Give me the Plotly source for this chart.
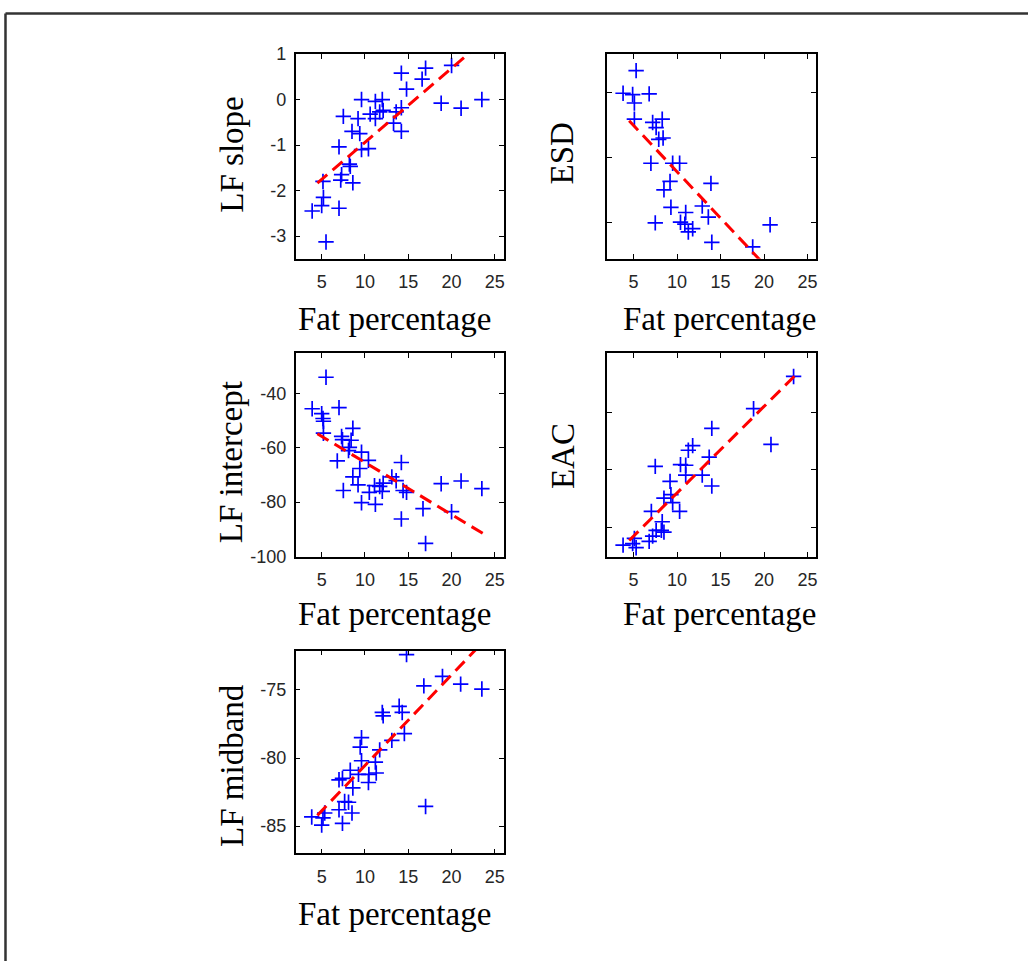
import plotly.graph_objects as go

W, H = 1029, 971

# ---------------- data ----------------
# Panel 1: LF slope vs fat percentage
fat_p1 = [3.9, 5.0, 5.15, 5.2, 5.5, 7.0, 7.0, 7.2, 7.3, 7.5, 8.2, 8.3, 8.5, 8.6,
          9.2, 9.4, 9.6, 9.6, 10.4, 10.6, 11.2, 11.2, 11.7, 12.0, 12.1, 13.3, 13.6,
          14.2, 14.2, 14.2, 14.8, 16.6, 17.0, 18.8, 20.0, 21.1, 23.5]
lf_slope = [-2.45, -2.33, -1.8, -2.15, -3.13, -1.04, -2.39, -1.77, -1.65, -0.37, -1.42,
            -1.47, -0.70, -1.83, -0.42, -0.75, 0.0, -1.1, -1.08, -0.32, -0.04, -0.42,
            -0.27, 0.0, -0.24, -0.52, -0.27, 0.58, -0.18, -0.70, 0.23, 0.45, 0.69,
            -0.08, 0.75, -0.19, 0.0]

# Panel 2: ESD vs fat percentage
fat_p2 = [3.8, 4.9, 5.1, 5.3, 5.1, 6.8, 7.0, 7.2, 7.6, 7.5, 8.3, 7.9, 8.4, 8.5, 9.2,
          9.3, 9.5, 10.3, 10.4, 11.0, 10.9, 11.3, 11.8, 12.9, 13.6, 13.9, 14.0, 18.7, 20.7]
esd = [2.99, 2.97, 2.84, 3.34, 2.59, 2.98, 1.91, 2.54, 2.46, 0.99, 2.59, 2.28, 2.30,
       1.50, 1.63, 1.23, 1.91, 1.91, 1.0, 1.15, 0.97, 0.85, 0.90, 1.25, 1.08, 1.60,
       0.69, 0.62, 0.96]

# Panel 3: LF intercept vs fat percentage
fat_p3 = [3.9, 5.0, 5.15, 5.2, 5.2, 5.5, 7.0, 6.8, 7.3, 7.4, 7.5, 8.2, 8.4, 8.6, 8.1,
          8.6, 9.2, 9.4, 9.6, 9.6, 10.4, 10.5, 11.1, 11.2, 11.7, 12.0, 12.1, 13.1, 13.6,
          14.2, 14.2, 14.4, 14.8, 16.7, 17.0, 18.8, 20.0, 21.1, 23.5]
lf_intercept = [-45.6, -47.4, -49.2, -50.2, -54.6, -34.0, -45.2, -64.8, -55.8, -57.0,
                -75.7, -59.8, -57.2, -52.8, -61.0, -70.7, -73.6, -67.6, -61.6, -80.2,
                -64.6, -76.4, -73.9, -80.8, -74.2, -76.0, -73.0, -70.7, -72.1, -65.4,
                -86.2, -75.7, -76.4, -82.4, -95.2, -73.2, -83.5, -72.2, -75.0]

# Panel 4: EAC vs fat percentage
fat_p4 = [3.8, 4.9, 5.1, 5.3, 6.8, 7.05, 7.2, 7.5, 7.6, 8.2, 8.3, 8.5, 8.5, 9.2, 9.3,
          9.5, 10.3, 10.4, 11.0, 11.0, 11.3, 11.8, 12.9, 13.7, 14.0, 14.0, 18.8, 20.8, 23.4]
eac = [0.695, 0.72, 0.81, 0.65, 0.76, 1.28, 0.85, 2.06, 0.95, 0.95, 1.10, 0.92, 1.51,
       1.80, 1.57, 1.43, 1.28, 2.09, 2.08, 1.91, 2.34, 2.42, 1.91, 2.22, 2.72, 1.72,
       3.06, 2.44, 3.62]

# Panel 5: LF midband vs fat percentage
fat_p5 = [3.85, 5.0, 5.15, 5.35, 7.0, 7.0, 7.4, 7.4, 7.65, 8.1, 8.3, 8.5, 8.6, 9.25,
          9.45, 9.6, 9.6, 10.4, 10.45, 11.2, 11.3, 11.7, 12.0, 12.1, 13.1, 13.95, 14.3,
          14.55, 14.8, 16.8, 17.0, 18.95, 21.05, 23.5]
lf_midband = [-84.33, -84.93, -84.4, -84.04, -83.8, -81.6, -81.5, -84.8, -83.2, -83.25,
              -80.9, -84.04, -82.2, -81.2, -79.2, -78.5, -80.2, -81.8, -81.2, -80.3,
              -81.1, -79.4, -76.65, -76.9, -78.7, -76.2, -76.65, -78.2, -72.4, -74.7,
              -83.56, -74.0, -74.57, -74.93]

# Regression lines (intercept, slope) and the x span they cover
fit_x = [4.5, 23.6]
fit_coef = {
    "p1": (-2.57, 0.163),
    "p2": (3.21, -0.143),
    "p3": (-46.16, -1.92),
    "p4": (0.099, 0.150),
    "p5": (-87.21, 0.666),
}

x_ticks = [5, 10, 15, 20, 25]
x_ticktext = ["5", "10", "15", "20", "25"]
p1_yticks = [-3, -2, -1, 0, 1]
p1_yticktext = ["-3", "-2", "-1", "0", "1"]
p3_yticks = [-100, -80, -60, -40]
p3_yticktext = ["-100", "-80", "-60", "-40"]
p5_yticks = [-85, -80, -75]
p5_yticktext = ["-85", "-80", "-75"]
unlabeled_yticks = [1, 2, 3]

y_titles = ["LF slope", "ESD", "LF intercept", "EAC", "LF midband"]
x_title = "Fat percentage"

# ---------------- layout geometry (pixels) ----------------
cols = {1: (296, 504), 2: (608, 817)}
rows = {1: (45, 254), 2: (350, 558), 3: (654, 861)}

panels = [
    # key, col, row, x, y, yrange, yticks, yticktext
    ("p1", 1, 1, fat_p1, lf_slope, [-3.5, 1.0], p1_yticks, p1_yticktext),
    ("p2", 2, 1, fat_p2, esd, [0.436, 3.595], unlabeled_yticks, ["", "", ""]),
    ("p3", 1, 2, fat_p3, lf_intercept, [-100, -25], p3_yticks, p3_yticktext),
    ("p4", 2, 2, fat_p4, eac, [0.497, 4.03], unlabeled_yticks, ["", "", ""]),
    ("p5", 1, 3, fat_p5, lf_midband, [-87.0, -72.1], p5_yticks, p5_yticktext),
]

y_title_pos = [(232, 148), (563, 146), (232, 462), (563, 455), (232, 771)]
x_title_pos = {1: 395, 2: 720}
x_title_y = {1: 316, 2: 617, 3: 923}


def py(y_px):
    """pixel row (from top) -> paper fraction"""
    return 1 - y_px / H


fig = go.Figure()
layout = dict(
    width=W, height=H,
    margin=dict(l=0, r=0, t=0, b=0),
    paper_bgcolor="white", plot_bgcolor="white",
    showlegend=False,
    annotations=[], shapes=[],
)

tick_font = dict(family="Liberation Sans, Arial, sans-serif", size=18, color="#262626")
title_font = dict(family="Liberation Serif, Times New Roman, serif", size=33, color="black")

for i, (key, c, r, xs, ys, yr, yt, ytt) in enumerate(panels, start=1):
    suffix = "" if i == 1 else str(i)
    fig.add_trace(go.Scatter(
        x=xs, y=ys, mode="markers",
        marker=dict(symbol="cross-thin", size=11, color="blue",
                    line=dict(color="blue", width=1.7)),
        xaxis="x" + suffix, yaxis="y" + suffix, hoverinfo="skip",
    ))
    b0, b1 = fit_coef[key]
    fig.add_trace(go.Scatter(
        x=fit_x, y=[b0 + b1 * v for v in fit_x], mode="lines",
        line=dict(color="red", width=3, dash="13px,7px"),
        xaxis="x" + suffix, yaxis="y" + suffix, hoverinfo="skip",
    ))
    x0, x1 = cols[c]
    ytop, ybot = rows[r]
    common = dict(showgrid=False, zeroline=False, showline=True, linecolor="black",
                  linewidth=1.5, mirror="ticks", ticks="inside", ticklen=5,
                  tickwidth=1, tickcolor="black", tickfont=tick_font)
    layout["xaxis" + suffix] = dict(
        domain=[x0 / W, x1 / W], range=[2, 26], anchor="y" + suffix,
        tickmode="array", tickvals=x_ticks, ticktext=x_ticktext,
        ticklabelstandoff=6, **common)
    layout["yaxis" + suffix] = dict(
        domain=[py(ybot), py(ytop)], range=yr, anchor="x" + suffix,
        tickmode="array", tickvals=yt, ticktext=ytt,
        ticklabelstandoff=4, **common)
    tx, ty = y_title_pos[i - 1]
    layout["annotations"].append(dict(
        text=y_titles[i - 1], x=tx / W, y=py(ty), xref="paper", yref="paper",
        xanchor="center", yanchor="middle", textangle=-90, showarrow=False,
        font=title_font))
    layout["annotations"].append(dict(
        text=x_title, x=x_title_pos[c] / W, y=py(x_title_y[r]),
        xref="paper", yref="paper", xanchor="center", yanchor="middle",
        showarrow=False, font=title_font))

# figure frame (only the top and left edges are visible in the crop)
layout["shapes"].append(dict(type="line", xref="paper", yref="paper",
                             x0=5.5 / W, x1=1.0, y0=py(3.5), y1=py(3.5),
                             line=dict(color="#333333", width=2.5)))
layout["shapes"].append(dict(type="line", xref="paper", yref="paper",
                             x0=5.5 / W, x1=5.5 / W, y0=0, y1=py(3.5),
                             line=dict(color="#333333", width=2.5)))

fig.update_layout(**layout)

# pin the chart to the page's top-left corner so it fills the window exactly
pin_js = (
    "document.body.style.margin='0';"
    "document.body.style.overflow='hidden';"
    "var d=document.getElementById('{plot_id}');"
    "d.style.position='absolute';d.style.left='0px';d.style.top='0px';"
)
fig.write_html("out.html", post_script=pin_js, config={"displayModeBar": False})
